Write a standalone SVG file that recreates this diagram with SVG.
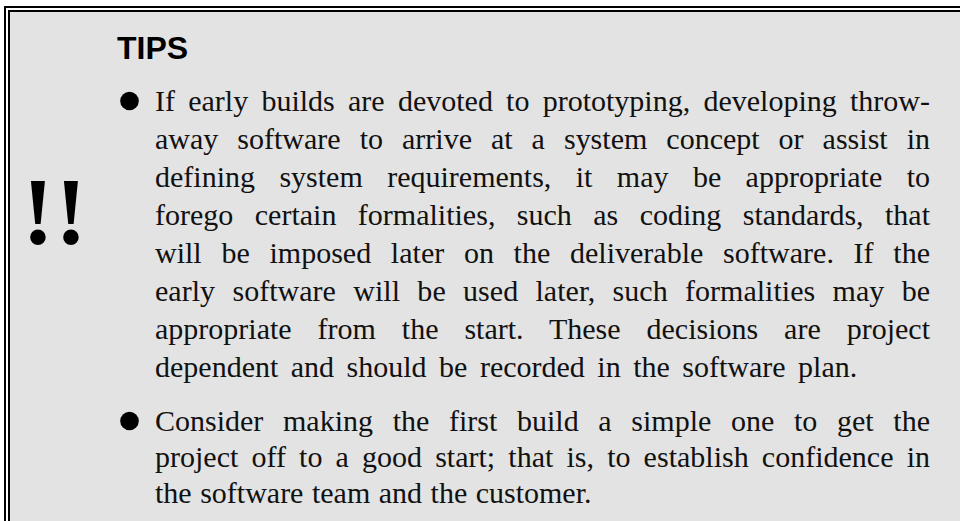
<svg xmlns="http://www.w3.org/2000/svg" width="960" height="521" viewBox="0 0 960 521">
<style>
.frame{fill:none;stroke:#000;stroke-width:2}
.body{font-family:"Liberation Serif","Times New Roman",serif;font-size:30px;fill:#111}
.title{font-family:"Liberation Sans",Arial,sans-serif;font-weight:bold;font-size:32px;fill:#000}
.bang{font-family:"Liberation Serif","Times New Roman",serif;font-weight:bold;font-size:96px;fill:#000}
.dot{fill:#000}
</style>
<rect x="0" y="0" width="960" height="521" fill="#ffffff"/>
<rect x="10" y="12" width="950" height="509" fill="#e3e3e3"/>
<g id="frame">
<path class="frame" d="M5 521 V7 H960"/>
<path class="frame" d="M9 521 V11 H960"/>
</g>
<g id="icon">
<text class="bang" x="22" y="244" letter-spacing="1">!!</text>
</g>
<g id="title">
<text class="title" x="117" y="59">TIPS</text>
</g>
<g id="tip1">
<circle class="dot" cx="129.5" cy="101" r="9.3"/>
<text class="body" x="155" y="111" word-spacing="5.7" textLength="775" lengthAdjust="spacing">If early builds are devoted to prototyping, developing throw-</text>
<text class="body" x="155" y="149" word-spacing="11.5" textLength="775" lengthAdjust="spacing">away software to arrive at a system concept or assist in</text>
<text class="body" x="155" y="187" word-spacing="16.9" textLength="775" lengthAdjust="spacing">defining system requirements, it may be appropriate to</text>
<text class="body" x="155" y="225" word-spacing="13.9" textLength="775" lengthAdjust="spacing">forego certain formalities, such as coding standards, that</text>
<text class="body" x="155" y="263" word-spacing="12.2" textLength="775" lengthAdjust="spacing">will be imposed later on the deliverable software. If the</text>
<text class="body" x="155" y="301" word-spacing="9.8" textLength="775" lengthAdjust="spacing">early software will be used later, such formalities may be</text>
<text class="body" x="155" y="339" word-spacing="18.4" textLength="775" lengthAdjust="spacing">appropriate from the start. These decisions are project</text>
<text class="body" x="155" y="377" word-spacing="5">dependent and should be recorded in the software plan.</text>
</g>
<g id="tip2">
<circle class="dot" cx="129.5" cy="421" r="9.3"/>
<text class="body" x="155" y="431" word-spacing="12.2" textLength="775" lengthAdjust="spacing">Consider making the first build a simple one to get the</text>
<text class="body" x="155" y="467" word-spacing="5.6" textLength="775" lengthAdjust="spacing">project off to a good start; that is, to establish confidence in</text>
<text class="body" x="155" y="503" word-spacing="1">the software team and the customer.</text>
</g>
</svg>
